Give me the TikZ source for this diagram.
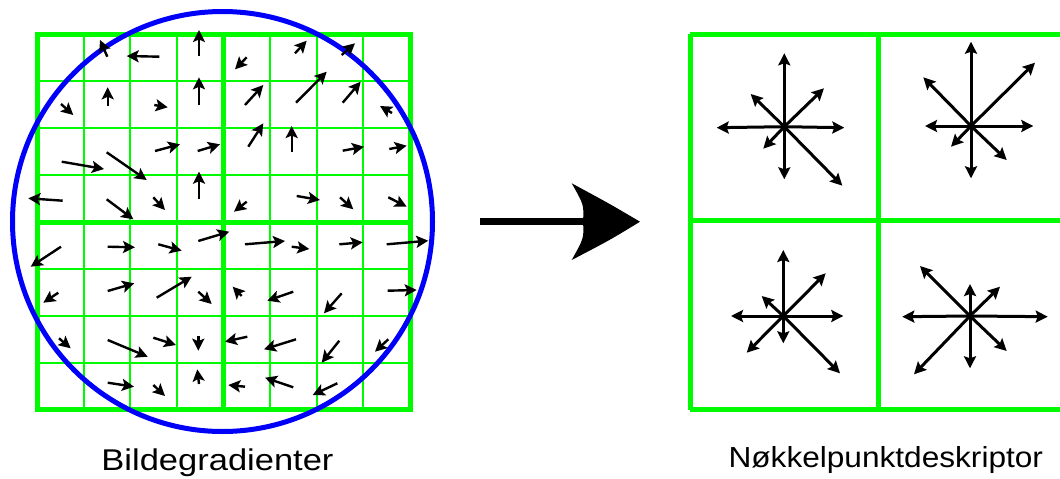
\documentclass[tikz,border=0pt]{standalone}
\usepackage{fontspec}
\setmainfont{Liberation Sans}
\usetikzlibrary{arrows.meta}
\definecolor{grn}{RGB}{0,250,0}
\definecolor{blu}{RGB}{0,0,250}
\tikzset{
  thickgrid/.style={draw=grn,line width=5pt},
  thingrid/.style={draw=grn,line width=2pt},
  ring/.style={draw=blu,line width=5pt},
  grad/.style={black,line width=2.4pt,-{Stealth[length=12pt,width=12pt,inset=2.5pt]}},
  hist/.style={black,line width=3pt,-{Stealth[length=12pt,width=12pt,inset=2pt]}},
  lbl/.style={font=\fontsize{30}{32}\selectfont,anchor=base,inner sep=0pt}
}
\begin{document}
\begin{tikzpicture}[x=1pt,y=-1pt]
\useasboundingbox (0,0) rectangle (1060,479);
% left grid: thin lines
\foreach \i in {1,2,3,5,6,7}{
  \draw[thingrid] ({37+\i*46.625},34.5) -- ({37+\i*46.625},409.8);
  \draw[thingrid] (37,{34.5+\i*46.9}) -- (410,{34.5+\i*46.9});
}
\draw[thickgrid] (37,34.5) rectangle (410,409.8);
\draw[thickgrid] (223.5,34.5) -- (223.5,409.8);
\draw[thickgrid] (37,222) -- (410,222);
% circle
\draw[ring] (222.5,221.5) circle[radius=210];
% gradient arrows
\foreach \ax/\ay/\bx/\by in {
107.3/56.7/100/40, 159.3/56.7/126.7/56, 199/56/199/30,
61/104/73.3/115, 107.7/106/107.7/87.3, 154.3/105/167.7/107.3, 199/105/199/77.3,
155/151/180/144.3, 197.7/151/220/144.3, 61.7/161.7/104/169, 106.7/152.3/146.7/180,
199/199.3/199/171.7, 62.7/200.7/28.3/198.3, 106.7/199.3/133.3/219.3, 153.3/197.3/165/210,
246.7/57.3/235/69.3, 295/53.3/306.7/40.7, 341.7/55/355/43.3,
245/105/263.3/85, 296/102.7/326.7/71.7, 342.7/102.7/360.7/81.7, 392/113/380/106,
248.3/146.7/263.3/123.3, 291.7/151.7/291.7/126, 342.7/150.7/364/146.7, 389.3/149/406.7/145.7,
246.7/201.7/234/211.7, 296.7/196/320/200, 340/197.3/353.3/209.3, 388.3/197.3/406.7/206.7,
61/246.7/30.7/266.7, 107.7/246.7/135/247.3, 158.3/244.3/181.7/250.7, 198.3/241/229.3/231.7,
58.3/292.7/43.3/302.7, 107.7/291/134.3/283.3, 156.7/297.7/191.7/276.7, 198.3/291.7/211.7/304,
59/338.3/70.7/348.3, 107.7/340/147.7/356.7, 153.3/337.7/176/345, 198.3/336/198.3/350.7,
107.7/382.7/134/386.7, 153.3/385/165/396, 199/384/197.3/369.3,
245/244.3/285/241, 291.7/246.7/309.3/249, 339.3/244.3/362.7/242.3, 386.7/244.3/428.3/240.7,
241.7/296/232.7/286.7, 293.3/291.7/267.3/300.7, 341.7/293.3/324/313.3, 387.7/290.7/416.7/290,
247.3/336.7/225/341.7, 296/339.3/264/349.3, 339.3/340.7/321.7/362.7, 388.3/339.3/375/351.7,
245/386.7/228.3/385, 293.3/387.3/265/377.7, 337.3/383.3/312.7/395}
  \draw[grad] (\ax,\ay) -- (\bx,\by);
% big arrow
\coordinate (bs) at (480,221.7);
\coordinate (bt) at (640,221.7);
\fill[black] (bs) ++(0,-3.5) rectangle (585,225.2);
\fill[black] (bt) .. controls (610,204) .. (571.7,183.3) .. controls (584,205) .. (583,221.7)
  .. controls (584,238) .. (571.7,260) .. controls (610,240) .. (bt) -- cycle;
% right grid
\draw[thickgrid] (690,34) -- (1064,34);
\draw[thickgrid] (690,409.8) -- (1064,409.8);
\draw[thickgrid] (690,220.5) -- (1064,220.5);
\draw[thickgrid] (690,34) -- (690,409.8);
\draw[thickgrid] (878,34) -- (878,409.8);
% histograms
\coordinate (h1) at (784.3,126.7);
\foreach \x/\y in {784.3/53.3, 824/88.3, 844.3/127.7, 842.3/185.7, 784.3/179.3, 763.3/148.7, 716.7/127.7, 750.7/94}
  \draw[hist] (h1) -- (\x,\y);
\coordinate (h2) at (971,126);
\foreach \x/\y in {971/41.7, 1035/62.7, 1033.3/126, 1006.7/160, 971/178.3, 951/146.7, 925/126, 923.3/77.3}
  \draw[hist] (h2) -- (\x,\y);
\coordinate (h3) at (783.3,316);
\foreach \x/\y in {783.3/250, 825.7/273.3, 843.3/316, 840/373.3, 783.3/343.3, 746.7/352.7, 731/316, 761.7/296}
  \draw[hist] (h3) -- (\x,\y);
\coordinate (h4) at (970,316);
\foreach \x/\y in {970/284, 1000/286.7, 1047.7/316.7, 1006.7/351, 970/368.3, 914/374.3, 902.3/316.7, 920/266}
  \draw[hist] (h4) -- (\x,\y);
% labels
\node[lbl,xscale=1.15] (t1) at (217.5,470.7) {Bildegradienter};
\node[lbl,font=\fontsize{29}{31}\selectfont,xscale=1.09] (t2) at (885.8,467.7) {Nøkkelpunktdeskriptor};
\end{tikzpicture}
\end{document}
